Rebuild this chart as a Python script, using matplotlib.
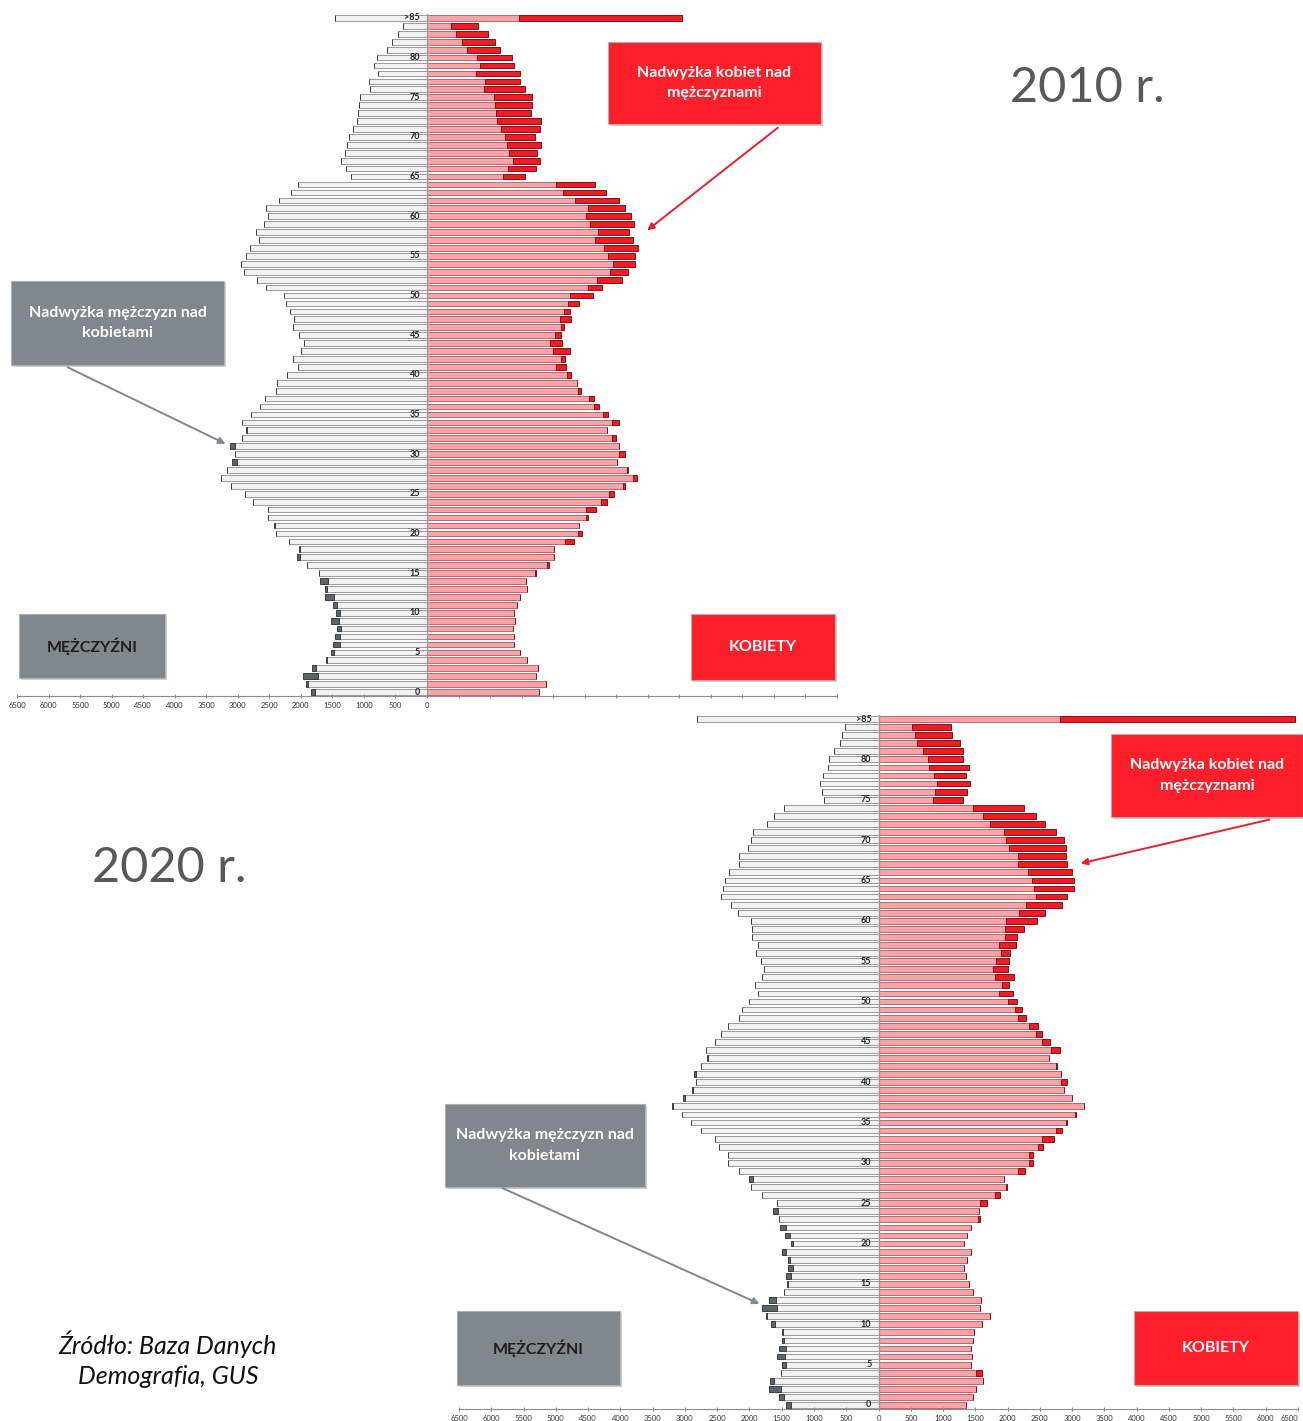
import numpy as np
import matplotlib.pyplot as plt
from matplotlib.patches import Rectangle

# ages 0..84 plus ">85" as the last row
ages = list(range(86))
age_labels = [str(a) if a % 5 == 0 else "" for a in range(85)] + [">85"]

men_2010 = [1837, 1917, 1959, 1827, 1600, 1521, 1489, 1452, 1431, 1521,
            1441, 1494, 1610, 1616, 1690, 1705, 1896, 2065, 2022, 2191,
            2392, 2424, 2513, 2513, 2751, 2888, 3110, 3268, 3173, 3084,
            3036, 3120, 2936, 2875, 2930, 2798, 2651, 2566, 2387, 2371,
            2218, 2038, 2117, 1996, 1943, 2022, 2117, 2101, 2165, 2228,
            2265, 2556, 2693, 2904, 2941, 2867, 2804, 2666, 2709, 2577,
            2524, 2550, 2344, 2160, 2038, 1200, 1288, 1368, 1299, 1262,
            1241, 1172, 1109, 1093, 1077, 1061, 898, 913, 781, 840,
            787, 628, 549, 454, 385, 1458]
women_2010 = [1774, 1880, 1732, 1758, 1584, 1473, 1378, 1383, 1357, 1394,
              1373, 1426, 1473, 1589, 1568, 1732, 1938, 2017, 2012, 2323,
              2450, 2413, 2556, 2682, 2846, 2962, 3142, 3337, 3179, 3020,
              3142, 3041, 2999, 2856, 3047, 2862, 2724, 2645, 2434, 2376,
              2281, 2207, 2181, 2260, 2133, 2123, 2170, 2281, 2265, 2413,
              2635, 2772, 3099, 3189, 3305, 3305, 3348, 3258, 3210, 3284,
              3242, 3136, 3041, 2835, 2661, 1558, 1721, 1790, 1737, 1800,
              1711, 1795, 1806, 1653, 1658, 1658, 1552, 1468, 1478, 1383,
              1352, 1156, 1082, 971, 803, 4040]

men_2020 = [1434, 1543, 1698, 1682, 1517, 1491, 1574, 1538, 1491, 1491,
            1672, 1749, 1801, 1698, 1471, 1419, 1434, 1398, 1398, 1496,
            1362, 1450, 1527, 1543, 1641, 1569, 1806, 1981, 2007, 2157,
            2327, 2332, 2472, 2528, 2745, 2910, 3050, 3200, 3024, 2895,
            2823, 2864, 2750, 2657, 2668, 2539, 2441, 2337, 2167, 2121,
            2007, 1863, 1914, 1811, 1770, 1827, 1899, 1873, 1956, 1961,
            1981, 2172, 2291, 2446, 2410, 2379, 2312, 2162, 2157, 2028,
            1971, 1945, 1723, 1615, 1471, 851, 877, 913, 857, 784,
            764, 697, 593, 573, 516, 2807]
women_2020 = [1352, 1471, 1512, 1615, 1600, 1429, 1455, 1429, 1465, 1476,
              1600, 1729, 1574, 1594, 1460, 1404, 1352, 1331, 1373, 1429,
              1326, 1373, 1440, 1569, 1553, 1677, 1883, 1987, 1950, 2276,
              2394, 2389, 2549, 2719, 2843, 2915, 3060, 3190, 3003, 2880,
              2915, 2833, 2771, 2637, 2812, 2663, 2528, 2466, 2291, 2219,
              2141, 2079, 2023, 2100, 2002, 2018, 2033, 2136, 2152, 2260,
              2451, 2575, 2848, 2921, 3034, 3024, 3003, 2926, 2905, 2905,
              2879, 2755, 2585, 2446, 2255, 1316, 1373, 1414, 1352, 1409,
              1305, 1305, 1264, 1140, 1120, 6450]

ticks = list(range(-6500, 6501, 500))

plt.rcParams['font.family'] = ['Lato', 'DejaVu Sans']

W, H = 1303, 1421
fig = plt.figure(figsize=(W / 100, H / 100), dpi=100)


def px_axes(x0, x1, y_top, y_bottom):
    # axes rectangle given in pixel coords (origin top-left)
    return fig.add_axes([x0 / W, 1 - y_bottom / H, (x1 - x0) / W, (y_bottom - y_top) / H])


def pyramid(ax, men, women, right_labels):
    y = np.array(ages)
    m = np.array(men, dtype=float)
    f = np.array(women, dtype=float)
    common = np.minimum(m, f)
    h = 0.72
    ax.barh(y, -common, height=h, color='#f2f2f2', edgecolor='#9c9c9c', linewidth=0.7)
    m_ex = np.clip(m - f, 0, None)
    ax.barh(y, -m_ex, left=-common, height=h, color='#5d646b', edgecolor='#3a3f44', linewidth=0.7)
    ax.barh(y, common, height=h, color='#f7a3a7', edgecolor='#b86a6e', linewidth=0.7)
    f_ex = np.clip(f - m, 0, None)
    ax.barh(y, f_ex, left=common, height=h, color='#ee1c25', edgecolor='#8a1015', linewidth=0.7)
    ax.axvline(0, color='#9a9a9a', lw=1.0)
    for a, lab in zip(ages, age_labels):
        if lab:
            ax.text(-110, a, lab, ha='right', va='center', fontsize=6.5,
                    fontweight='bold', color='#222222')
    ax.set_xlim(-6500, 6500)
    ax.set_ylim(-0.5, 85.5)
    ax.set_yticks([])
    ax.set_xticks(ticks)
    if right_labels:
        labels = [str(abs(t)) for t in ticks]
    else:
        labels = [str(abs(t)) if t <= 0 else "" for t in ticks]
    ax.set_xticklabels(labels)
    ax.tick_params(axis='x', labelsize=5.5, length=3, direction='inout',
                   color='#8c8c8c', labelcolor='#333333', pad=3)
    if right_labels:
        # the last label sits on the picture edge, keep it inside
        ax.get_xticklabels()[-1].set_horizontalalignment('right')
    for s in ['left', 'right', 'top']:
        ax.spines[s].set_visible(False)
    ax.spines['bottom'].set_color('#8c8c8c')
    ax.patch.set_alpha(0)


ax1 = px_axes(17, 837, 14, 696)
pyramid(ax1, men_2010, women_2010, right_labels=False)

ax2 = px_axes(459, 1298, 715, 1409)
pyramid(ax2, men_2020, women_2020, right_labels=True)

# overlay in pixel coordinates for boxes, arrows and texts
ov = fig.add_axes([0, 0, 1, 1], zorder=10)
ov.set_xlim(0, W)
ov.set_ylim(H, 0)
ov.axis('off')
ov.patch.set_alpha(0)

RED = '#fe1f2b'
GREY = '#80878d'


def box(x0, y0, x1, y1, color, text, tcolor='white', size=11.5):
    ov.add_patch(Rectangle((x0 + 2, y0 + 2), x1 - x0, y1 - y0, color='#000000', alpha=0.18, lw=0))
    ov.add_patch(Rectangle((x0, y0), x1 - x0, y1 - y0, facecolor=color, edgecolor='#b0b0b0', lw=0.8))
    ov.text((x0 + x1) / 2, (y0 + y1) / 2, text, ha='center', va='center', color=tcolor,
            fontsize=size, fontweight='bold', linespacing=1.6)


def arrow(x0, y0, x1, y1, color):
    ov.annotate('', xy=(x1, y1), xytext=(x0, y0),
                arrowprops=dict(arrowstyle='-|>', color=color, lw=1.4, mutation_scale=10))


# 2010
box(608, 42, 821, 124, RED, "Nadwyżka kobiet nad\nmężczyznami")
arrow(780, 126, 645, 232, '#e8202a')
box(11, 281, 224, 365, GREY, "Nadwyżka mężczyzn nad\nkobietami")
arrow(65, 366, 228, 445, '#80878d')
box(19, 614, 165, 678, GREY, "MĘŻCZYŹNI", tcolor='#1e1e1e')
box(691, 614, 835, 680, RED, "KOBIETY")
ov.text(1087, 88, "2010 r.", ha='center', va='center', fontsize=35, color='#595959')

# 2020
box(1111, 734, 1303, 817, RED, "Nadwyżka kobiet nad\nmężczyznami")
arrow(1272, 819, 1078, 864, '#e8202a')
box(445, 1104, 645, 1187, GREY, "Nadwyżka mężczyzn nad\nkobietami")
arrow(500, 1187, 762, 1305, '#80878d')
box(457, 1311, 620, 1385, GREY, "MĘŻCZYŹNI", tcolor='#1e1e1e')
box(1134, 1311, 1298, 1385, RED, "KOBIETY")
ov.text(169, 868, "2020 r.", ha='center', va='center', fontsize=35, color='#595959')

ov.text(168, 1359, "Źródło: Baza Danych\nDemografia, GUS", ha='center', va='center',
        fontsize=18, style='italic', color='#111111', linespacing=1.35)

fig.savefig('out.png', dpi=100)
